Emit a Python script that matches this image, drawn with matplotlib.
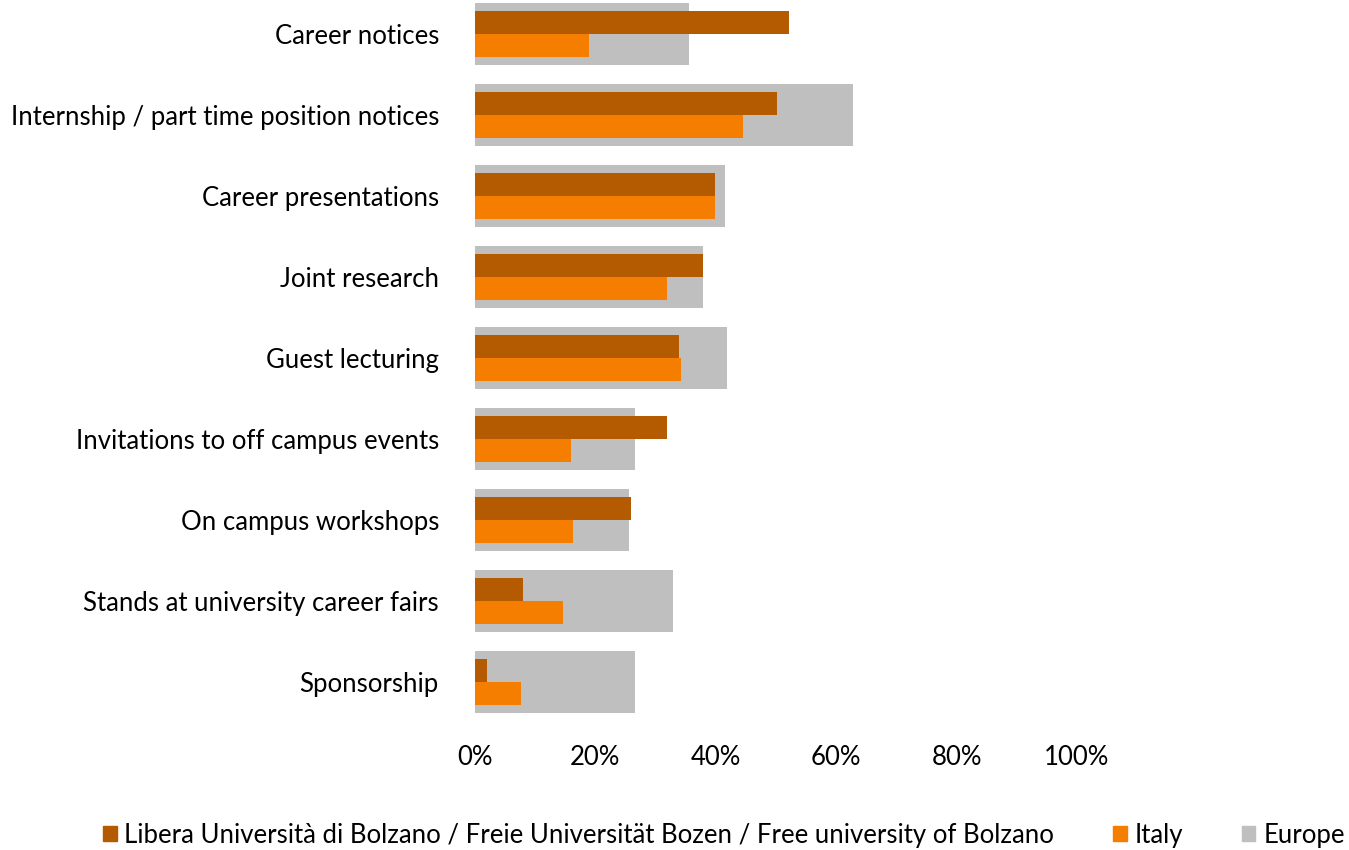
import matplotlib
matplotlib.use("Agg")
import matplotlib.pyplot as plt
import numpy as np
from matplotlib.patches import Patch
from matplotlib.ticker import FuncFormatter

plt.rcParams['font.family'] = ['Lato', 'DejaVu Sans']

categories = ["Career notices", "Internship / part time position notices", "Career presentations",
              "Joint research", "Guest lecturing", "Invitations to off campus events",
              "On campus workshops", "Stands at university career fairs", "Sponsorship"]
bolzano = [52.2, 50.2, 39.9, 37.9, 33.9, 31.9, 25.9, 8.0, 2.0]
italy = [18.9, 44.5, 39.9, 31.9, 34.2, 15.9, 16.3, 14.6, 7.6]
europe = [35.5, 62.8, 41.5, 37.9, 41.9, 26.6, 25.6, 32.9, 26.6]
xticks = [0, 20, 40, 60, 80, 100]
series_names = ["Libera Università di Bolzano / Freie Universität Bozen / Free university of Bolzano",
                "Italy", "Europe"]

c_bz, c_it, c_eu = "#B45A00", "#F57D00", "#BFBFBF"

fig = plt.figure(figsize=(13.49, 8.5), dpi=100)
ax = fig.add_axes([475/1349, 1-722.5/850, 602/1349, 729/850])

y = np.arange(len(categories))
ax.barh(y, europe, height=0.765, color=c_eu, zorder=1)
ax.barh(y - 0.14, bolzano, height=0.28, color=c_bz, zorder=2)
ax.barh(y + 0.14, italy, height=0.28, color=c_it, zorder=2)

ax.set_xlim(0, 100)
ax.set_ylim(8.5, -0.5)
ax.set_xticks(xticks)
ax.xaxis.set_major_formatter(FuncFormatter(lambda v, p: f"{int(v)}%"))
ax.set_yticks(y)
ax.set_yticklabels(categories)
ax.tick_params(axis='both', length=0, labelsize=18.5, colors='black')
ax.tick_params(axis='y', pad=26)
ax.tick_params(axis='x', pad=16)
for s in ax.spines.values():
    s.set_visible(False)
for lbl in ax.get_yticklabels():
    lbl.set_va('center_baseline')

handles = [Patch(color=c_bz), Patch(color=c_it), Patch(color=c_eu)]
fig.legend(handles, series_names, loc='center', bbox_to_anchor=(724/1349, 1-835/850),
           ncol=3, frameon=False, fontsize=18.5, handlelength=0.52, handleheight=0.52,
           handletextpad=0.3, columnspacing=2.3)

fig.savefig("out.png", dpi=100)
